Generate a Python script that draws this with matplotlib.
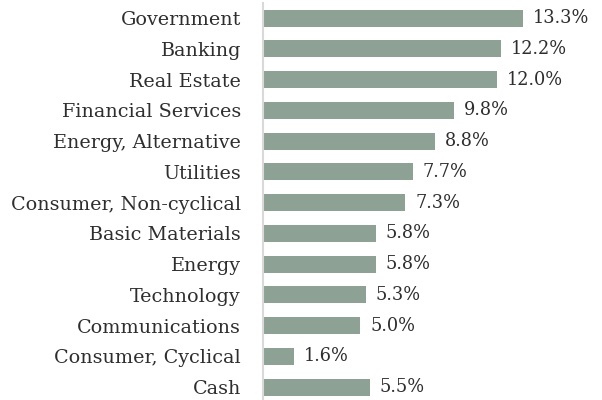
import matplotlib
matplotlib.use("Agg")
import matplotlib.pyplot as plt

categories = ["Government", "Banking", "Real Estate", "Financial Services",
              "Energy, Alternative", "Utilities", "Consumer, Non-cyclical",
              "Basic Materials", "Energy", "Technology", "Communications",
              "Consumer, Cyclical", "Cash"]
values = [13.3, 12.2, 12.0, 9.8, 8.8, 7.7, 7.3, 5.8, 5.8, 5.3, 5.0, 1.6, 5.5]
value_labels = [f"{v:.1f}%" for v in values]

plt.rcParams['font.family'] = ['DejaVu Serif']
W, H = 602, 400
fig = plt.figure(figsize=(W/100, H/100), dpi=100)
ax = fig.add_axes([262.5/W, 0, 1 - 262.5/W, 1 - 3/H])

bar_color = "#8ea195"
text_color = "#2e2e2e"
ypos = list(range(len(categories)))
ax.barh(ypos, values, height=0.55, color=bar_color)
ax.set_ylim(12.42, -0.49)
ax.set_xlim(0, 17.34)

ax.set_yticks(ypos)
ax.set_yticklabels(categories, fontsize=13.8, color=text_color)
ax.tick_params(axis='y', length=0, pad=15.5)
ax.set_xticks([])
for s in ["top", "right", "bottom"]:
    ax.spines[s].set_visible(False)
ax.spines["left"].set_color("#d9d9d9")
ax.spines["left"].set_linewidth(1.5)

for y, v, lab in zip(ypos, values, value_labels):
    ax.annotate(lab, (v, y), xytext=(7, 0), textcoords="offset points",
                va="center", ha="left", fontsize=12.8, color=text_color)

fig.savefig("out.png", dpi=100)
